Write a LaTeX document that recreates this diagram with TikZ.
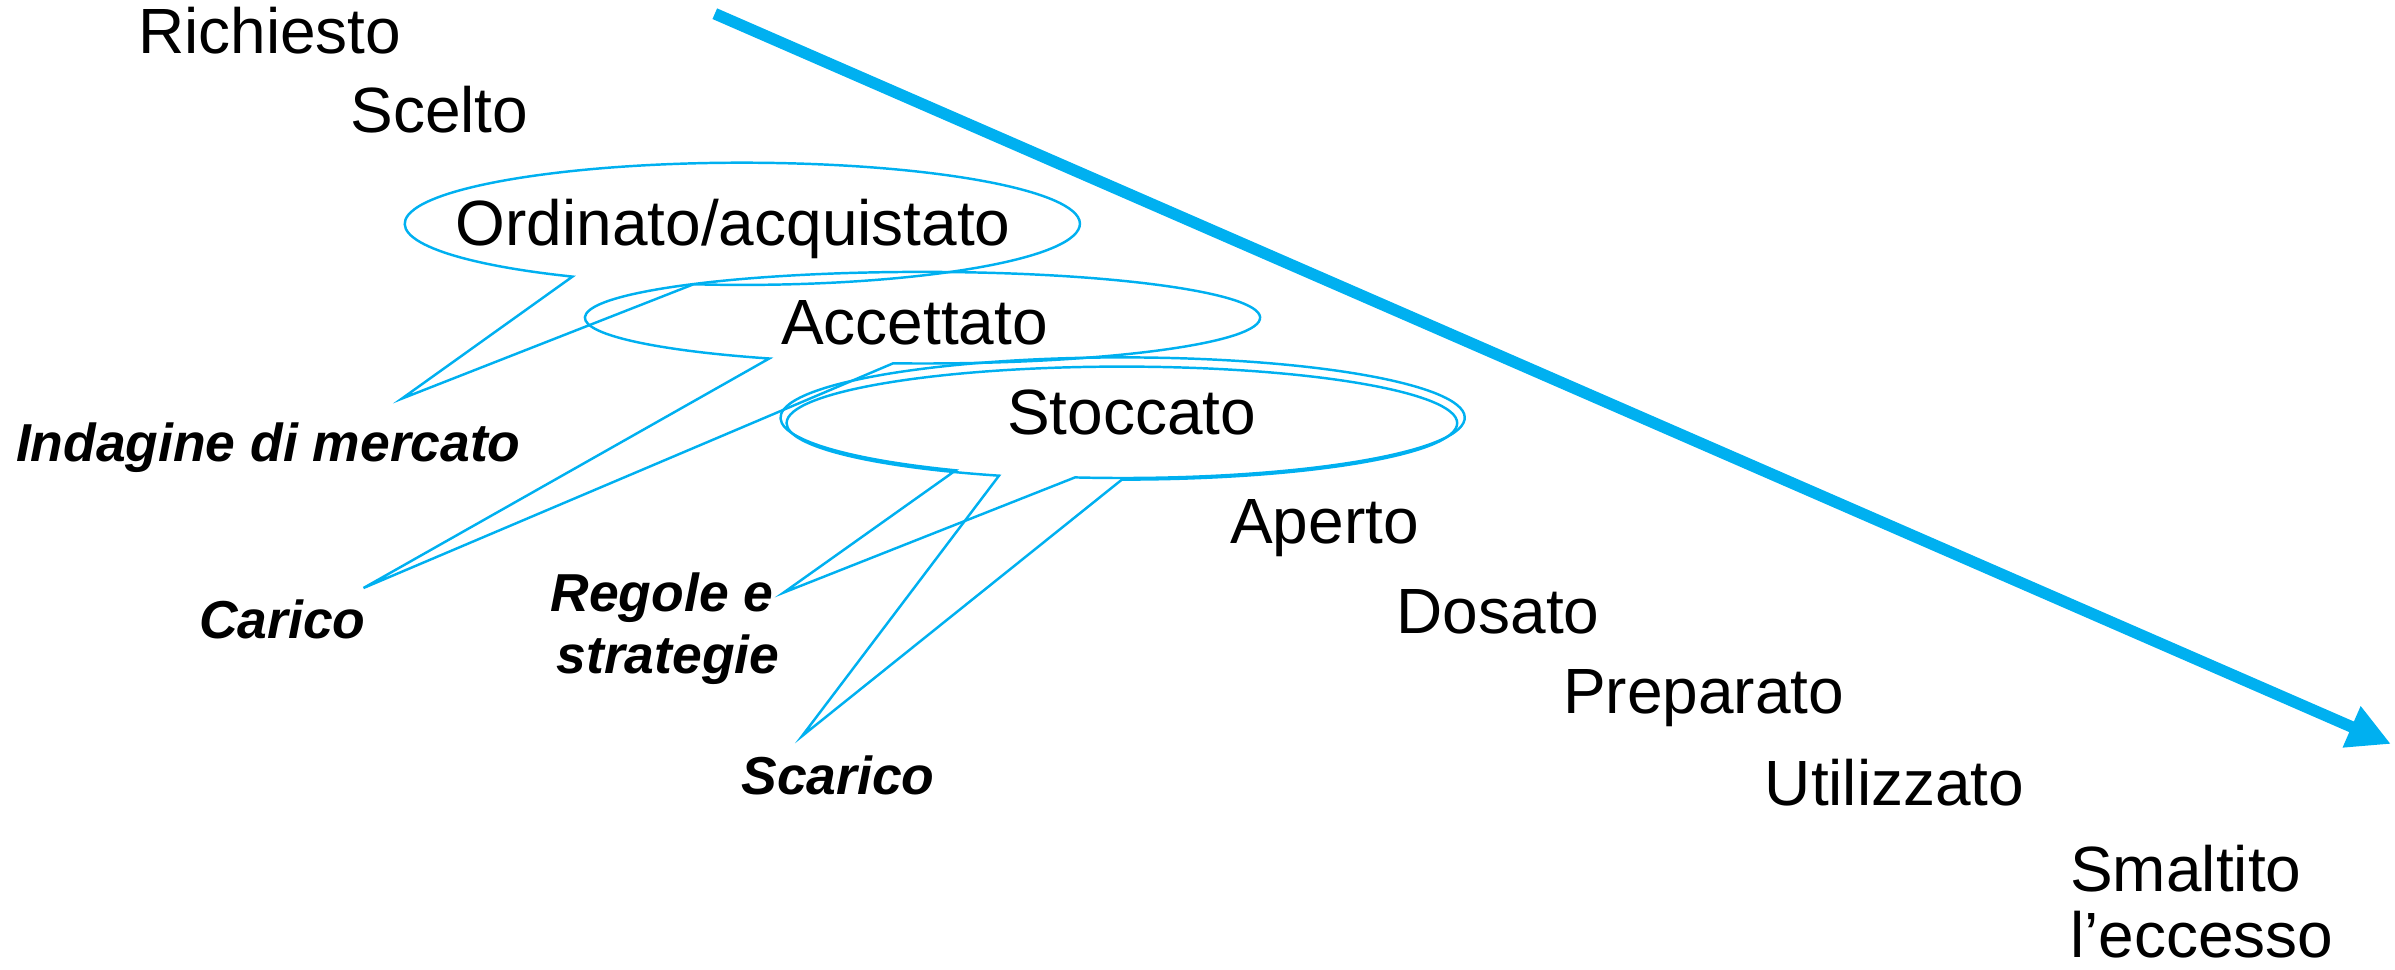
\documentclass[tikz,border=0pt]{standalone}
\usepackage{fontspec}
\setmainfont{Liberation Sans}
\usetikzlibrary{arrows.meta}
\definecolor{cblue}{HTML}{00B0F0}
\tikzset{
  lbl/.style={inner sep=0pt, anchor=base west, font=\fontsize{18.2}{19}\selectfont},
  tag/.style={inner sep=0pt, anchor=base west, font=\fontsize{15.2}{17}\selectfont\bfseries\itshape},
  callout/.style={draw=cblue, line width=0.7pt, line join=miter},
  flow/.style={draw=cblue, line width=3.3pt, -{Triangle[length=0.43cm,width=0.42cm]}}
}
\begin{document}
\begin{tikzpicture}
\useasboundingbox (0,0) rectangle (23.95,-9.70);
% coordinates
\coordinate (oc) at (7.423,-2.238);
\coordinate (ac) at (9.225,-3.177);
\coordinate (sca) at (11.226,-4.177);
\coordinate (scb) at (11.219,-4.231);
\coordinate (arrowstart) at (7.148,-0.137);
\coordinate (arrowend) at (23.91,-7.44);
% labels
\node[lbl] (richiesto) at (1.375,-0.54) {Richiesto};
\node[lbl] (scelto) at (3.498,-1.32) {Scelto};
\node[lbl] (ordinato) at (4.552,-2.45) {Ordinato/acquistato};
\node[lbl] (accettato) at (7.805,-3.44) {Accettato};
\node[lbl] (stoccato) at (10.066,-4.34) {Stoccato};
\node[lbl] (aperto) at (12.296,-5.43) {Aperto};
\node[lbl] (dosato) at (13.960,-6.33) {Dosato};
\node[lbl] (preparato) at (15.625,-7.135) {Preparato};
\node[lbl] (utilizzato) at (17.641,-8.055) {Utilizzato};
\node[lbl] (smaltito) at (20.696,-8.91) {Smaltito};
\node[lbl] (eccesso) at (20.696,-9.57) {l’eccesso};
\node[tag] (indagine) at (0.153,-4.613) {Indagine di mercato};
\node[tag] (carico) at (1.986,-6.385) {Carico};
\node[tag] (regole) at (5.50,-6.110) {Regole e};
\node[tag] (strategie) at (5.56,-6.736) {strategie};
\node[tag] (scarico) at (7.408,-7.943) {Scarico};
% tips
\coordinate (otip) at (4.017,-3.987);
\coordinate (atip) at (3.635,-5.880);
\coordinate (satip) at (7.836,-5.926);
\coordinate (sbtip) at (8.019,-7.362);
% callouts
\draw[callout] (oc) ++(261.7:3.376 and 0.611) arc[start angle=261.7, end angle=599.8, x radius=3.376, y radius=0.611] -- (otip) -- cycle;
\draw[callout] (ac) ++(265:3.376 and 0.458) arc[start angle=265, end angle=603, x radius=3.376, y radius=0.458] -- (atip) -- cycle;
\draw[callout] (sca) ++(262:3.421 and 0.603) arc[start angle=262, end angle=600.8, x radius=3.421, y radius=0.603] -- (satip) -- cycle;
\draw[callout] (scb) ++(270:3.353 and 0.565) arc[start angle=270, end angle=608.5, x radius=3.353, y radius=0.565] -- (sbtip) -- cycle;
% main arrow
\draw[flow] (arrowstart) -- (arrowend);
\end{tikzpicture}
\end{document}
